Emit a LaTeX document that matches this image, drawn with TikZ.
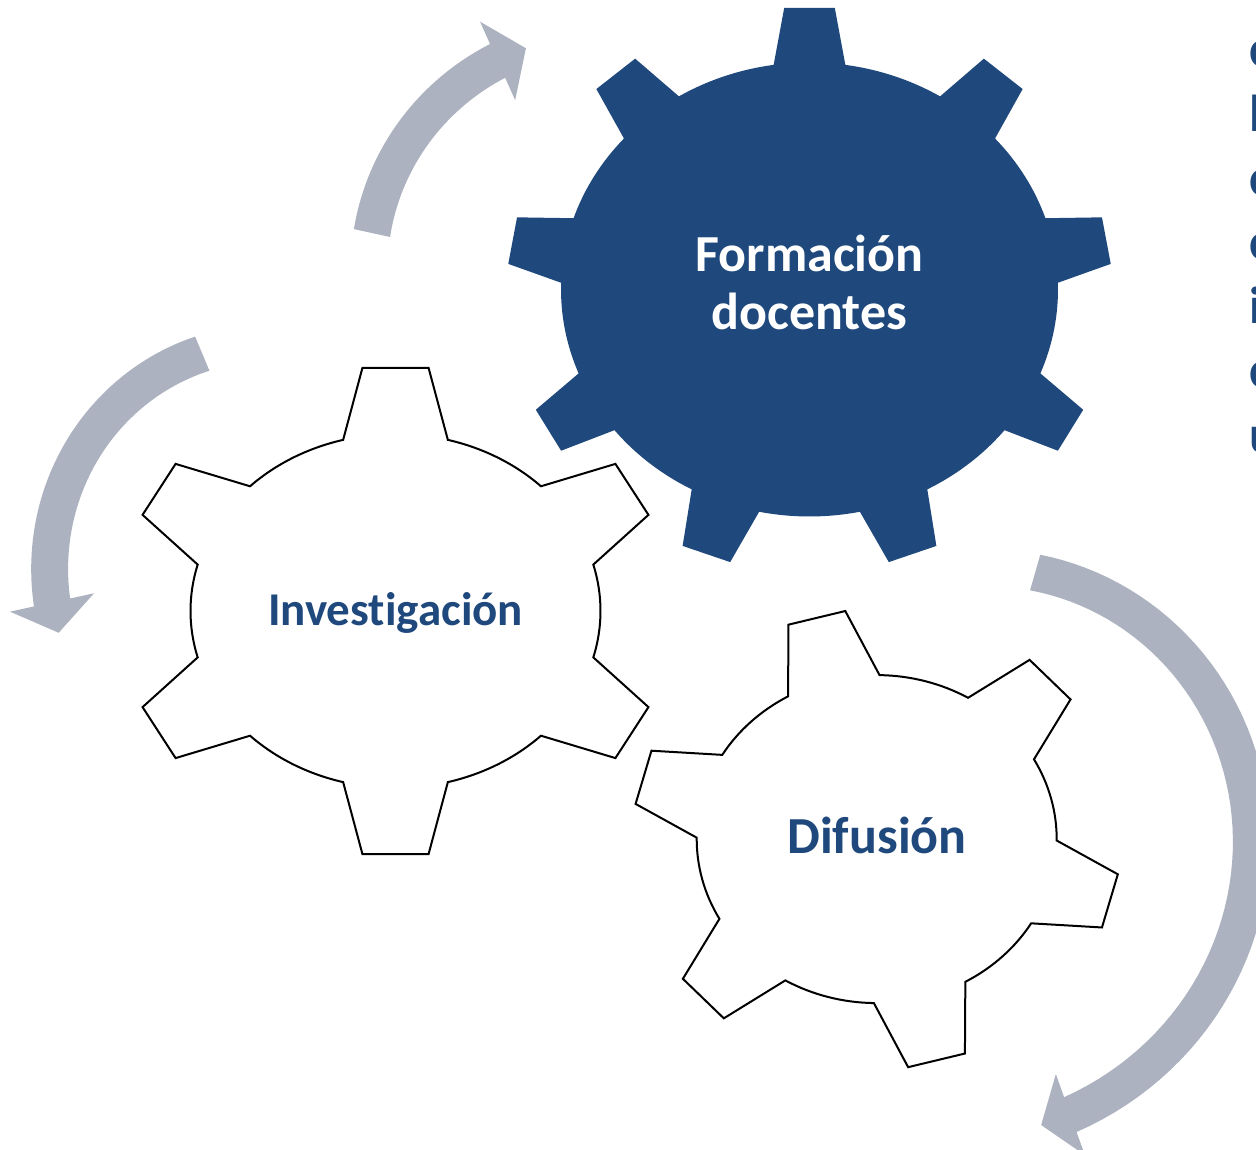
\documentclass[tikz,border=0pt]{standalone}
\usepackage{fontspec}
\setmainfont{Carlito}[Ligatures={NoCommon}]
\definecolor{gearblue}{RGB}{31,73,125}
\definecolor{arrowgray}{RGB}{172,178,191}
% gear: #1 style, #2 centre, #3 body radii, #4 tip radii, #5 teeth, #6 first angle, #7 base half-angle, #8 tip half-angle
\newcommand{\drawgear}[8]{%
  \pgfmathsetmacro\gstep{360/#5}%
  \pgfmathtruncatemacro\glast{#5-1}%
  \path[#1, shift={#2}] ({#6-#7}:#3)
    \foreach \k in {0,...,\glast}{
      -- ({#6+\k*\gstep-#7}:#3)
      -- ({#6+\k*\gstep-#8}:#4)
      -- ({#6+\k*\gstep+#8}:#4)
      -- ({#6+\k*\gstep+#7}:#3)
      arc ({#6+\k*\gstep+#7}:{#6+(\k+1)*\gstep-#7}:#3)
    } -- cycle;}
% curved block arrow: #1 cx, #2 cy, #3 tail angle, #4 head angle, #5 tail radius, #6 head radius, #7 sense (+1 ccw, -1 cw)
\def\aw{18.5}\def\ahw{43}\def\ahl{31}
\newcommand{\drawarrow}[7]{%
  \fill[cyclearrow]
    plot[domain=#3:#4, samples=60, variable=\t]
      ({#1+(#5+(#6-#5)*(\t-#3)/(#4-#3)+\aw)*cos(\t)}, {#2+(#5+(#6-#5)*(\t-#3)/(#4-#3)+\aw)*sin(\t)})
    -- ({#1+(#6+\ahw)*cos(#4)}, {#2+(#6+\ahw)*sin(#4)})
    -- ({#1+#6*cos(#4)-#7*\ahl*sin(#4)}, {#2+#6*sin(#4)+#7*\ahl*cos(#4)})
    -- ({#1+(#6-\ahw)*cos(#4)}, {#2+(#6-\ahw)*sin(#4)})
    -- plot[domain=#4:#3, samples=60, variable=\t]
      ({#1+(#5+(#6-#5)*(\t-#3)/(#4-#3)-\aw)*cos(\t)}, {#2+(#5+(#6-#5)*(\t-#3)/(#4-#3)-\aw)*sin(\t)})
    -- cycle;}
\begin{document}
\begin{tikzpicture}[x=1pt,y=1pt,
  gearfilled/.style={fill=gearblue},
  gearopen/.style={fill=white, draw=black, line width=2pt, line join=miter},
  cyclearrow/.style={fill=arrowgray},
  geartext/.style={font={\bfseries\fontsize{52}{58}\selectfont}, text=gearblue, inner sep=0pt, anchor=base},
  sidetext/.style={font={\bfseries\fontsize{52}{64.2}\selectfont}, text=gearblue, inner sep=0pt, anchor=base west}]
\useasboundingbox (0,0) rectangle (1256,1149);
\fill[white] (0,0) rectangle (1256,1149);

% cycle arrows
\drawarrow{596.5}{867}{167.7}{114.1}{229.8}{242.2}{-1}
\drawarrow{285.4}{597.6}{112.8}{192.35}{214.5}{238.9}{1}
\drawarrow{964.5}{330}{74.0}{-70.3}{256.4}{314}{-1}

% gears
\drawgear{gearfilled}{(809.5,859.5)}{248.5pt and 227pt}{302.5pt and 282.5pt}{9}{90}{8.3}{4.8}
\drawgear{gearopen}{(395.5,538)}{205pt and 177pt}{275pt and 245pt}{6}{90}{14.8}{6.9}
\drawgear{gearopen}{(876.7,309.9)}{180pt and 164pt}{244pt and 230pt}{6}{104.3}{15.2}{6.9}

% labels
\node[geartext, text=white] (formacion) at (809.5,877)
  {\begin{tabular}[t]{@{}c@{}}Formación\\docentes\end{tabular}};
\node[geartext, font={\bfseries\fontsize{47}{56}\selectfont}] (investigacion) at (395.5,523) {Investigación};
\node[geartext] (difusion) at (877,295) {Difusión};

% text cut off at the right edge
\begin{scope}
  \clip (0,0) rectangle (1256,1149);
  \node[sidetext] (sidetext) at (1249,1082)
    {\begin{tabular}[t]{@{}l@{}}c\\l\\c\\c\\i\\c\\u\end{tabular}};
\end{scope}
\end{tikzpicture}
\end{document}
